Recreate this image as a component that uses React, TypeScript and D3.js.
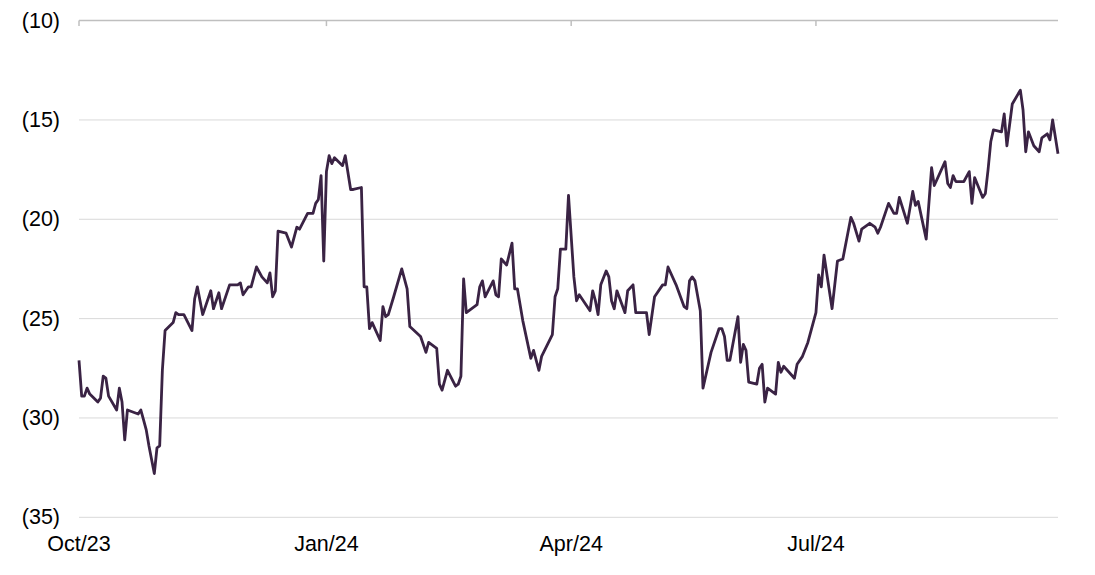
import React from "react";
import * as d3 from "d3";

const dates: string[] = [
  "2023-10-01","2023-10-02","2023-10-03","2023-10-04","2023-10-05","2023-10-08","2023-10-09","2023-10-10","2023-10-11","2023-10-12",
  "2023-10-15","2023-10-16","2023-10-17","2023-10-18","2023-10-19","2023-10-23","2023-10-24","2023-10-25","2023-10-26","2023-10-27",
  "2023-10-29","2023-10-30","2023-10-31","2023-11-01","2023-11-02","2023-11-05","2023-11-06","2023-11-07","2023-11-09","2023-11-12",
  "2023-11-13","2023-11-14","2023-11-16","2023-11-19","2023-11-20","2023-11-22","2023-11-23","2023-11-26","2023-11-29","2023-11-30",
  "2023-12-01","2023-12-03","2023-12-04","2023-12-06","2023-12-08","2023-12-10","2023-12-11","2023-12-12","2023-12-13","2023-12-14",
  "2023-12-17","2023-12-19","2023-12-21","2023-12-22","2023-12-25","2023-12-27","2023-12-28","2023-12-29","2023-12-30","2023-12-31",
  "2024-01-01","2024-01-02","2024-01-03","2024-01-04","2024-01-07","2024-01-08","2024-01-10","2024-01-11","2024-01-14","2024-01-15",
  "2024-01-16","2024-01-17","2024-01-18","2024-01-21","2024-01-22","2024-01-23","2024-01-24","2024-01-26","2024-01-29","2024-01-31",
  "2024-02-01","2024-02-05","2024-02-07","2024-02-08","2024-02-11","2024-02-12","2024-02-13","2024-02-15","2024-02-18","2024-02-19",
  "2024-02-20","2024-02-21","2024-02-22","2024-02-26","2024-02-27","2024-02-28","2024-02-29","2024-03-03","2024-03-04","2024-03-05",
  "2024-03-06","2024-03-08","2024-03-10","2024-03-11","2024-03-12","2024-03-14","2024-03-17","2024-03-18","2024-03-20","2024-03-21",
  "2024-03-25","2024-03-26","2024-03-27","2024-03-28","2024-03-30","2024-03-31","2024-04-02","2024-04-03","2024-04-04","2024-04-08",
  "2024-04-09","2024-04-10","2024-04-11","2024-04-12","2024-04-14","2024-04-15","2024-04-16","2024-04-17","2024-04-18","2024-04-21",
  "2024-04-22","2024-04-24","2024-04-25","2024-04-29","2024-04-30","2024-05-02","2024-05-05","2024-05-06","2024-05-07","2024-05-10",
  "2024-05-13","2024-05-14","2024-05-15","2024-05-16","2024-05-17","2024-05-19","2024-05-20","2024-05-22","2024-05-23","2024-05-26",
  "2024-05-27","2024-05-28","2024-05-29","2024-05-30","2024-06-02","2024-06-03","2024-06-04","2024-06-05","2024-06-06","2024-06-09",
  "2024-06-10","2024-06-11","2024-06-12","2024-06-13","2024-06-16","2024-06-17","2024-06-18","2024-06-19","2024-06-23","2024-06-24",
  "2024-06-26","2024-06-28","2024-07-01","2024-07-02","2024-07-03","2024-07-04","2024-07-07","2024-07-09","2024-07-11","2024-07-14",
  "2024-07-15","2024-07-17","2024-07-18","2024-07-21","2024-07-23","2024-07-24","2024-07-25","2024-07-28","2024-07-30","2024-07-31",
  "2024-08-01","2024-08-04","2024-08-06","2024-08-07","2024-08-08","2024-08-11","2024-08-13","2024-08-14","2024-08-18","2024-08-19",
  "2024-08-20","2024-08-21","2024-08-22","2024-08-25","2024-08-27","2024-08-28","2024-08-29","2024-09-01","2024-09-02","2024-09-03",
  "2024-09-04","2024-09-05","2024-09-08","2024-09-09","2024-09-10","2024-09-12","2024-09-15","2024-09-16","2024-09-17","2024-09-18",
  "2024-09-20","2024-09-22","2024-09-23","2024-09-25","2024-09-26","2024-09-27","2024-09-29",
];

const values: number[] = [
  -27.1,-28.9,-28.9,-28.5,-28.8,-29.2,-29.0,-27.9,-28.0,-28.9,
  -29.6,-28.5,-29.2,-31.1,-29.6,-29.8,-29.6,-30.1,-30.6,-31.4,
  -32.8,-31.5,-31.4,-27.6,-25.6,-25.2,-24.7,-24.8,-24.8,-25.6,
  -24.0,-23.4,-24.8,-23.6,-24.5,-23.7,-24.5,-23.3,-23.3,-23.2,
  -23.8,-23.4,-23.4,-22.4,-22.9,-23.2,-22.7,-23.9,-23.6,-20.6,
  -20.7,-21.4,-20.4,-20.5,-19.7,-19.7,-19.2,-19.0,-17.8,-22.1,
  -17.6,-16.8,-17.2,-16.9,-17.3,-16.8,-18.5,-18.5,-18.4,-23.4,
  -23.4,-25.5,-25.2,-26.1,-24.4,-24.9,-24.8,-23.9,-22.5,-23.5,
  -25.4,-25.9,-26.7,-26.2,-26.5,-28.3,-28.6,-27.6,-28.4,-28.3,
  -27.9,-23.0,-24.7,-24.3,-23.4,-23.1,-23.9,-23.1,-23.8,-23.9,
  -22.0,-22.3,-21.2,-23.5,-23.5,-25.1,-27.0,-26.6,-27.6,-26.9,
  -25.8,-23.9,-23.5,-21.5,-21.5,-18.8,-22.9,-24.1,-23.8,-24.6,
  -23.6,-24.1,-24.8,-23.3,-22.6,-22.9,-24.1,-24.5,-23.6,-24.7,
  -23.6,-23.3,-24.7,-24.7,-25.8,-23.9,-23.3,-23.3,-22.4,-23.3,
  -24.4,-24.5,-23.1,-22.9,-23.1,-24.6,-28.5,-27.3,-26.7,-25.5,
  -25.5,-25.9,-27.1,-27.1,-24.9,-27.2,-26.3,-26.6,-28.2,-28.3,
  -27.5,-27.3,-29.2,-28.5,-28.8,-27.2,-27.7,-27.4,-28.0,-27.3,
  -26.9,-26.2,-24.7,-22.8,-23.4,-21.8,-24.5,-22.1,-22.0,-19.9,
  -20.2,-21.1,-20.5,-20.2,-20.4,-20.7,-20.4,-19.2,-19.7,-19.7,
  -18.9,-20.2,-18.6,-19.3,-19.1,-21.0,-17.4,-18.3,-17.1,-18.2,
  -18.4,-17.8,-18.1,-18.1,-17.6,-19.2,-17.9,-18.9,-18.7,-17.5,
  -16.1,-15.5,-15.6,-14.7,-16.3,-14.2,-13.5,-14.5,-16.6,-15.6,
  -16.3,-16.6,-15.9,-15.7,-16.0,-15.0,-16.7,
];

const yTicks: number[] = [-10, -15, -20, -25, -30, -35];
const xTickDates: string[] = ["2023-10-01", "2024-01-01", "2024-04-01", "2024-07-01"];
const xTickLabels: string[] = ["Oct/23", "Jan/24", "Apr/24", "Jul/24"];
const xDomain: string[] = ["2023-10-01", "2024-09-29"];

const W = 1095;
const H = 575;
const FONT = "'Liberation Sans', Arial, sans-serif";

export default function App() {
  const parse = d3.timeParse("%Y-%m-%d");
  const data = dates.map((d, i) => ({ date: parse(d) as Date, value: values[i] }));

  const x = d3
    .scaleTime()
    .domain([parse(xDomain[0]) as Date, parse(xDomain[1]) as Date])
    .range([79, 1058]);
  const y = d3.scaleLinear().domain([-35, -10]).range([517.3, 20.6]);

  const line = d3
    .line<{ date: Date; value: number }>()
    .x((d) => x(d.date))
    .y((d) => y(d.value));

  const fmt = (v: number) => `(${Math.abs(v)})`;
  const [x0, x1] = x.range();

  return (
    <svg
      width={W}
      height={H}
      style={{ position: "absolute", left: 0, top: 0, background: "#fff" }}
    >
      {yTicks
        .filter((t) => t !== -10)
        .map((t) => (
          <line key={"g" + t} x1={x0} x2={x1} y1={y(t)} y2={y(t)} stroke="#d9d9d9" strokeWidth={1} />
        ))}
      <line x1={x0} x2={x1} y1={y(-10)} y2={y(-10)} stroke="#bfbfbf" strokeWidth={1.5} />
      {xTickDates.map((d) => {
        const xx = x(parse(d) as Date);
        return <line key={"t" + d} x1={xx} x2={xx} y1={y(-10)} y2={y(-10) + 5.5} stroke="#bfbfbf" strokeWidth={1.5} />;
      })}
      {yTicks.map((t) => (
        <text
          key={"yl" + t}
          x={60}
          y={y(t)}
          textAnchor="end"
          dominantBaseline="central"
          fontFamily={FONT}
          fontSize={21.5}
          fill="#000"
        >
          {fmt(t)}
        </text>
      ))}
      {xTickDates.map((d, i) => (
        <text
          key={"xl" + d}
          x={x(parse(d) as Date)}
          y={551}
          textAnchor="middle"
          fontFamily={FONT}
          fontSize={21.5}
          fill="#000"
        >
          {xTickLabels[i]}
        </text>
      ))}
      <path d={line(data) || ""} fill="none" stroke="#3a2344" strokeWidth={2.8} strokeLinejoin="round" />
    </svg>
  );
}
